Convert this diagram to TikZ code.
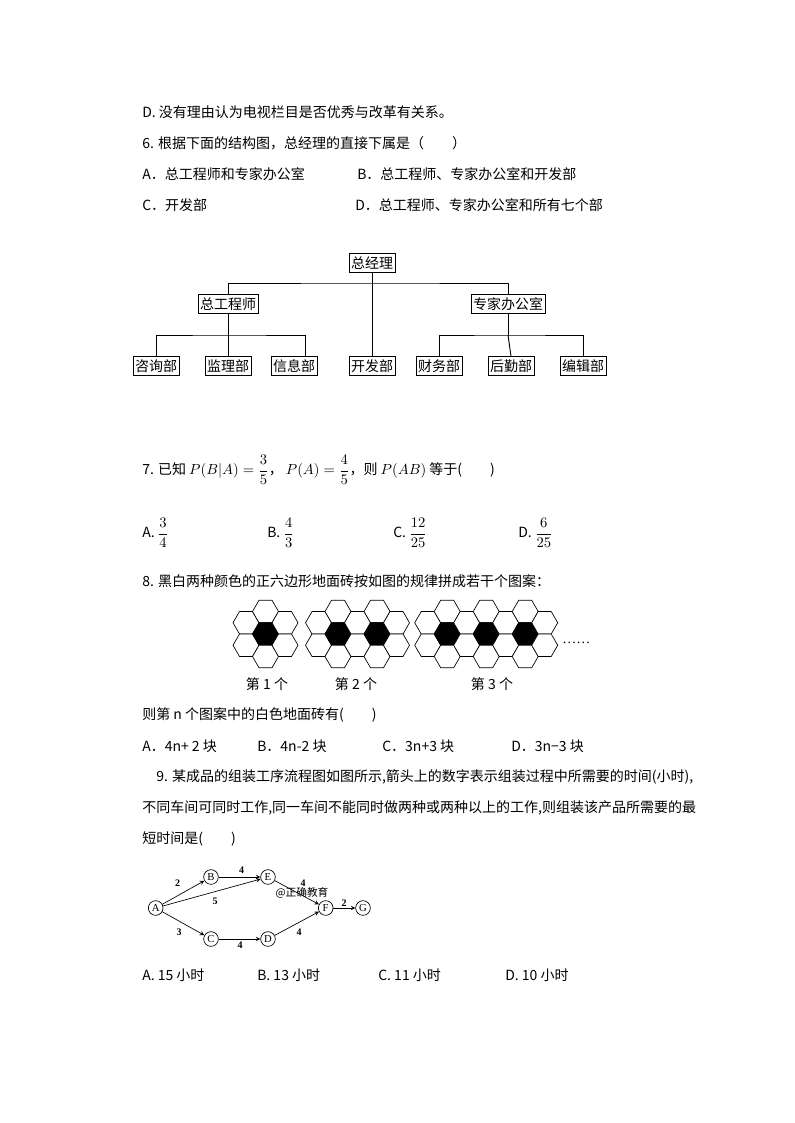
\documentclass[tikz,border=0pt]{standalone}
\usepackage{amsmath}
\usepackage{fontspec}
\setmainfont{Noto Sans CJK SC}
\newfontfamily\lserif{Liberation Serif}
\begin{document}
\begin{tikzpicture}[x=0.75pt,y=-0.75pt,
  txt/.style={anchor=west,inner sep=0pt,font=\fontsize{10.5}{12}\selectfont},
  org/.style={draw,line width=0.7pt,inner sep=1.5pt,minimum height=14pt,font=\fontsize{10.5}{12}\selectfont},
  hexw/.style={draw,line width=0.5pt,fill=white},
  hexb/.style={draw,line width=0.5pt,fill=black},
  cn/.style={draw,circle,line width=0.5pt,minimum size=11pt,inner sep=0pt,font=\lserif\fontsize{8}{9}\selectfont},
  ar/.style={->,>=stealth,line width=0.5pt},
  el/.style={font=\lserif\bfseries\fontsize{7.5}{8}\selectfont,inner sep=0pt}]
\useasboundingbox (0,0) rectangle (794,1123);
\node[txt] (t1) at (142,112) {D. 没有理由认为电视栏目是否优秀与改革有关系。};
\node[txt] (t2) at (142,143) {6. 根据下面的结构图，总经理的直接下属是（　　）};
\node[txt] (t3a) at (142,174) {A．总工程师和专家办公室};
\node[txt] (t3b) at (357,174) {B．总工程师、专家办公室和开发部};
\node[txt] (t4a) at (142,205) {C．开发部};
\node[txt] (t4b) at (355,205) {D．总工程师、专家办公室和所有七个部};
% org chart
\node[org] (gm) at (372,263) {总经理};
\node[org] (ce) at (228,304) {总工程师};
\node[org] (ex) at (508,304) {专家办公室};
\node[org] (b1) at (156,366) {咨询部};
\node[org] (b2) at (228,366) {监理部};
\node[org] (b3) at (294,366) {信息部};
\node[org] (b4) at (372,366) {开发部};
\node[org] (b5) at (439,366) {财务部};
\node[org] (b6) at (511,366) {后勤部};
\node[org] (b7) at (583,366) {编辑部};
\begin{scope}[line width=0.7pt]
\draw (gm.south) -- (b4.north);
\draw (ce.north) |- (372,283) -| (ex.north);
\coordinate (lj) at (228,335);
\coordinate (rj) at (508,335);
\draw (ce.south) -- (lj);
\draw (b1.north) |- (lj) -| (305,357);
\draw (b2.north) -- (lj);
\draw (ex.south) -- (rj);
\draw (b5.north) |- (rj) -| (b7.north);
\draw (b6.north) -- (rj);
\end{scope}
% Q7
\node[txt] (q7) at (142,470) {7. 已知 $P(B|A)=\dfrac{3}{5}$，\ $P(A)=\dfrac{4}{5}$，则 $P(AB)$ 等于(　　)};
\node[txt] (o7a) at (142,533) {A. $\dfrac{3}{4}$};
\node[txt] (o7b) at (267,533) {B. $\dfrac{4}{3}$};
\node[txt] (o7c) at (393,533) {C. $\dfrac{12}{25}$};
\node[txt] (o7d) at (518,533) {D. $\dfrac{6}{25}$};
% Q8
\node[txt] (q8) at (142,581) {8. 黑白两种颜色的正六边形地面砖按如图的规律拼成若干个图案：};
\def\R{13}
\foreach \xo/\n in {246/1,318.5/2,427.7/3}{
  \pgfmathtruncatemacro\kmax{2*\n}
  \foreach \k in {0,...,\kmax}{
    \pgfmathsetmacro\cx{\xo+1.5*\R*\k}
    \ifodd\k
      \foreach \dy/\st in {-22.5/hexw,0/hexb,22.5/hexw}{
        \draw[\st] (\cx,634+\dy) +(0:\R) -- +(60:\R) -- +(120:\R) -- +(180:\R) -- +(240:\R) -- +(300:\R) -- cycle;}
    \else
      \foreach \dy in {-11.25,11.25}{
        \draw[hexw] (\cx,634+\dy) +(0:\R) -- +(60:\R) -- +(120:\R) -- +(180:\R) -- +(240:\R) -- +(300:\R) -- cycle;}
    \fi
  }
}
\node[txt] (dots) at (562,643) {\lserif ……};
\node[txt,anchor=center] (l1) at (267,684) {第 1 个};
\node[txt,anchor=center] (l2) at (356,684) {第 2 个};
\node[txt,anchor=center] (l3) at (492,684) {第 3 个};
\node[txt] (q8b) at (142,715) {则第 n 个图案中的白色地面砖有(　　)};
\node[txt] (o8a) at (142,746) {A．4n+ 2 块};
\node[txt] (o8b) at (257,746) {B．4n-2 块};
\node[txt] (o8c) at (382,746) {C．3n+3 块};
\node[txt] (o8d) at (511,746) {D．3n−3 块};
% Q9
\node[txt] (q9a) at (156,777) {9. 某成品的组装工序流程图如图所示,箭头上的数字表示组装过程中所需要的时间(小时),};
\node[txt] (q9b) at (142,808) {不同车间可同时工作,同一车间不能同时做两种或两种以上的工作,则组装该产品所需要的最};
\node[txt] (q9c) at (142,839) {短时间是(　　)};
\node[cn] (A) at (155.7,908) {A};
\node[cn] (B) at (211,877) {B};
\node[cn] (E) at (268,877) {E};
\node[cn] (C) at (211,939) {C};
\node[cn] (D) at (268,939) {D};
\node[cn] (F) at (325.7,908) {F};
\node[cn] (G) at (363,908) {G};
\draw[ar] (A) -- (B);
\draw[ar] (B) -- (E);
\draw[ar] (A) -- (E);
\draw[ar] (E) -- (F);
\draw[ar] (A) -- (C);
\draw[ar] (C) -- (D);
\draw[ar] (D) -- (F);
\draw[ar] (F) -- (G);
\node[el] (w1) at (177.7,883) {2};
\node[el] (w2) at (241.7,870) {4};
\node[el] (w3) at (215,901) {5};
\node[el] (w4) at (303,883) {4};
\node[el] (w5) at (344,903) {2};
\node[el] (w6) at (179,932) {3};
\node[el] (w7) at (240,945.5) {4};
\node[el] (w8) at (299,932) {4};
\node[inner sep=0pt,font=\fontsize{8}{9}\selectfont] (wm) at (302,893) {@正确教育};
\node[txt] (o9a) at (142,975) {A. 15 小时};
\node[txt] (o9b) at (257,975) {B. 13 小时};
\node[txt] (o9c) at (378,975) {C. 11 小时};
\node[txt] (o9d) at (505,975) {D. 10 小时};
\end{tikzpicture}
\end{document}
